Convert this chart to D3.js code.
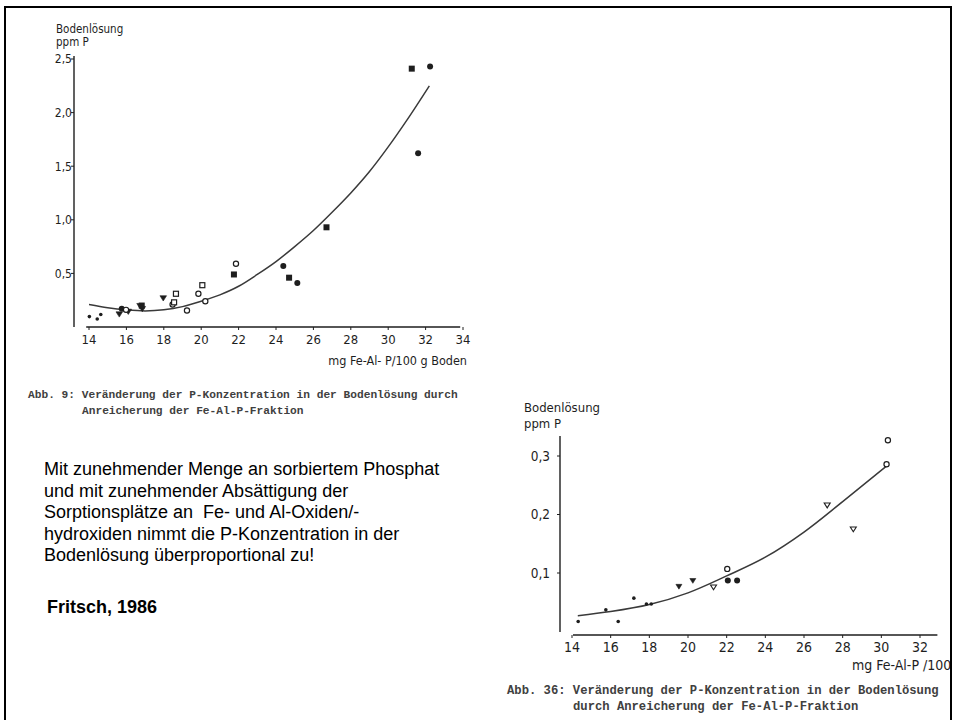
<!DOCTYPE html>
<html><head><meta charset="utf-8">
<script src="https://cdn.jsdelivr.net/npm/d3@7"></script>
<style>
html,body{margin:0;padding:0;background:#fff;}
svg{display:block;}
</style></head>
<body>
<script>
// ---------- DATA: top chart (Abb. 9) ----------
const topXTicks = [14,16,18,20,22,24,26,28,30,32,34];
const topYTicks = [0.5,1.0,1.5,2.0,2.5];
const topYTickLabels = ["0,5","1,0","1,5","2,0","2,5"];
const topDotsX = [14.02,14.44,14.63];
const topDotsY = [0.097,0.075,0.116];
const topTriX = [15.62,16.1,16.73,16.85,17.97];
const topTriY = [0.12,0.145,0.198,0.17,0.27];
const topCircX = [15.75,24.39,25.14,31.6,32.24];
const topCircY = [0.17,0.57,0.41,1.62,2.43];
const topSqX = [16.82,21.75,24.7,26.7,31.26];
const topSqY = [0.2,0.49,0.46,0.93,2.41];
const topOpenCircX = [15.98,18.47,19.24,19.85,20.22,21.86];
const topOpenCircY = [0.16,0.21,0.154,0.31,0.24,0.59];
const topOpenSqX = [18.55,18.65,20.06];
const topOpenSqY = [0.23,0.31,0.39];
const topCurveX = [14,15,16,17,18,19,20,21,22,23,24,25,26,27,28,29,30,31,32.2];
const topCurveY = [0.21,0.18,0.16,0.15,0.16,0.19,0.24,0.30,0.38,0.49,0.61,0.75,0.90,1.07,1.25,1.45,1.68,1.93,2.25];

// ---------- DATA: bottom chart (Abb. 36) ----------
const botXTicks = [14,16,18,20,22,24,26,28,30,32];
const botYTicks = [0.1,0.2,0.3];
const botYTickLabels = ["0,1","0,2","0,3"];
const botDotsX = [14.32,15.75,16.39,17.2,17.85,18.1];
const botDotsY = [0.017,0.037,0.017,0.057,0.047,0.047];
const botTriX = [19.53,20.25];
const botTriY = [0.077,0.087];
const botOpenTriX = [21.32,27.2,28.55];
const botOpenTriY = [0.076,0.216,0.175];
const botOpenCircX = [22.03,30.34,30.27];
const botOpenCircY = [0.107,0.327,0.286];
const botCircX = [22.06,22.54];
const botCircY = [0.087,0.087];
const botCurveX = [14.3,16,18,20,22,24,26,28,30.28];
const botCurveY = [0.027,0.034,0.046,0.066,0.095,0.127,0.170,0.222,0.283];

// ---------- TEXT ----------
const topCaption = ["Abb. 9: Veränderung der P-Konzentration in der Bodenlösung durch",
                    "Anreicherung der Fe-Al-P-Fraktion"];
const botCaption = ["Abb. 36: Veränderung der P-Konzentration in der Bodenlösung",
                    "durch Anreicherung der Fe-Al-P-Fraktion"];
const bodyText = ["Mit zunehmender Menge an sorbiertem Phosphat",
                  "und mit zunehmender Absättigung der",
                  "Sorptionsplätze an  Fe- und Al-Oxiden/-",
                  "hydroxiden nimmt die P-Konzentration in der",
                  "Bodenlösung überproportional zu!"];
const citation = "Fritsch, 1986";

// ---------- DRAW ----------
const W = 954, H = 720;
const svg = d3.select("body").append("svg").attr("width", W).attr("height", H);
const chartFont = "'DejaVu Sans Condensed','Liberation Sans Narrow','DejaVu Sans',sans-serif";
const ink = "#1e1e1e";

function zip(xs, ys){ return xs.map((x,i)=>[x, ys[i]]); }

function drawChart(cfg){
  const g = svg.append("g");
  const x = d3.scaleLinear().domain(cfg.xDomain).range(cfg.xRange);
  const y = d3.scaleLinear().domain(cfg.yDomain).range(cfg.yRange);
  // y axis
  g.append("line").attr("x1", cfg.yAxisX).attr("x2", cfg.yAxisX)
    .attr("y1", cfg.yAxisBottom).attr("y2", cfg.yAxisTop)
    .attr("stroke", ink).attr("stroke-width", 1.4);
  cfg.yTicks.forEach((t,i)=>{
    g.append("line").attr("x1", cfg.yAxisX-3).attr("x2", cfg.yAxisX)
      .attr("y1", y(t)).attr("y2", y(t)).attr("stroke", ink).attr("stroke-width", 1);
    g.append("text").attr("x", cfg.yAxisX - cfg.yLabelGap).attr("y", y(t))
      .attr("dy", "0.36em").attr("text-anchor", "end")
      .attr("font-family", chartFont).attr("font-size", cfg.yFont).attr("fill", ink)
      .text(cfg.yTickLabels[i]);
  });
  // x axis
  g.append("line").attr("x1", x(cfg.xLineDomain[0])).attr("x2", x(cfg.xLineDomain[1]))
    .attr("y1", cfg.xAxisY).attr("y2", cfg.xAxisY)
    .attr("stroke", ink).attr("stroke-width", 1.4);
  cfg.xTicks.forEach(t=>{
    g.append("line").attr("x1", x(t)).attr("x2", x(t))
      .attr("y1", cfg.xAxisY).attr("y2", cfg.xAxisY+3).attr("stroke", ink).attr("stroke-width", 1);
    g.append("text").attr("x", x(t)).attr("y", cfg.xLabelY)
      .attr("text-anchor", "middle")
      .attr("font-family", chartFont).attr("font-size", cfg.xFont).attr("fill", ink)
      .text(t);
  });
  // axis titles
  g.append("text").attr("x", cfg.xTitle.x).attr("y", cfg.xTitle.y)
    .attr("text-anchor", cfg.xTitle.anchor)
    .attr("font-family", chartFont).attr("font-size", cfg.xTitle.size).attr("fill", ink)
    .attr("xml:space","preserve").text(cfg.xTitle.text);
  cfg.yTitle.lines.forEach((l,i)=>{
    g.append("text").attr("x", cfg.yTitle.x).attr("y", cfg.yTitle.y + i*cfg.yTitle.lh)
      .attr("font-family", chartFont).attr("font-size", cfg.yTitle.size).attr("fill", ink)
      .text(l);
  });
  // curve
  const line = d3.line().x(d=>x(d[0])).y(d=>y(d[1])).curve(d3.curveMonotoneX);
  g.append("path").datum(zip(cfg.curveX, cfg.curveY)).attr("d", line)
    .attr("fill","none").attr("stroke","#3a3a3a").attr("stroke-width",1.5);
  // markers
  const s = cfg.mk;
  cfg.series.forEach(sr=>{
    const pts = zip(sr.x, sr.y);
    pts.forEach(p=>{
      const cx = x(p[0]), cy = y(p[1]);
      if (sr.type==="dot"){
        g.append("circle").attr("cx",cx).attr("cy",cy).attr("r",s.dot).attr("fill",ink);
      } else if (sr.type==="circ"){
        g.append("circle").attr("cx",cx).attr("cy",cy).attr("r",s.circ).attr("fill",ink);
      } else if (sr.type==="ocirc"){
        g.append("circle").attr("cx",cx).attr("cy",cy).attr("r",s.circ-0.4).attr("fill","#fff")
          .attr("stroke",ink).attr("stroke-width",1.2);
      } else if (sr.type==="sq"){
        g.append("rect").attr("x",cx-s.sq).attr("y",cy-s.sq).attr("width",2*s.sq).attr("height",2*s.sq).attr("fill",ink);
      } else if (sr.type==="osq"){
        g.append("rect").attr("x",cx-s.sq+0.5).attr("y",cy-s.sq+0.5).attr("width",2*s.sq-1).attr("height",2*s.sq-1)
          .attr("fill","#fff").attr("stroke",ink).attr("stroke-width",1.2);
      } else if (sr.type==="tri" || sr.type==="otri"){
        const r = s.tri;
        const d = `M${cx-r},${cy-r*0.7}L${cx+r},${cy-r*0.7}L${cx},${cy+r*0.9}Z`;
        g.append("path").attr("d",d)
          .attr("fill", sr.type==="tri"? ink : "#fff")
          .attr("stroke", ink).attr("stroke-width", sr.type==="tri"?0.6:1.1);
      }
    });
  });
}

// top chart
drawChart({
  xDomain:[14,34], xRange:[89,463],
  yDomain:[0,2.5], yRange:[327,59],
  yAxisX:74, yAxisTop:56, yAxisBottom:327, yLabelGap:2,
  yTicks:topYTicks, yTickLabels:topYTickLabels, yFont:12,
  xLineDomain:[13.85,33.85], xAxisY:327, xTicks:topXTicks, xLabelY:344, xFont:13,
  xTitle:{text:"mg Fe-Al- P/100 g Boden", x:467, y:365, anchor:"end", size:12.5},
  yTitle:{lines:["Bodenlösung","ppm P"], x:56, y:33, lh:12.5, size:11.5},
  curveX:topCurveX, curveY:topCurveY,
  mk:{dot:1.8, circ:3, sq:3, tri:3.3},
  series:[
    {type:"dot", x:topDotsX, y:topDotsY},
    {type:"tri", x:topTriX, y:topTriY},
    {type:"circ", x:topCircX, y:topCircY},
    {type:"sq", x:topSqX, y:topSqY},
    {type:"ocirc", x:topOpenCircX, y:topOpenCircY},
    {type:"osq", x:topOpenSqX, y:topOpenSqY}
  ]
});

// bottom chart
drawChart({
  xDomain:[14,32], xRange:[572,920],
  yDomain:[0,0.3], yRange:[631.5,456],
  yAxisX:560, yAxisTop:436, yAxisBottom:632, yLabelGap:10,
  yTicks:botYTicks, yTickLabels:botYTickLabels, yFont:13.5,
  xLineDomain:[14.05,32.9], xAxisY:635, xTicks:botXTicks, xLabelY:652, xFont:14,
  xTitle:{text:"mg Fe-Al-P /100 g Boden", x:852, y:670, anchor:"start", size:14},
  yTitle:{lines:["Bodenlösung","ppm P"], x:524, y:412, lh:15.5, size:13},
  curveX:botCurveX, curveY:botCurveY,
  mk:{dot:1.8, circ:3, sq:3, tri:3},
  series:[
    {type:"dot", x:botDotsX, y:botDotsY},
    {type:"tri", x:botTriX, y:botTriY},
    {type:"otri", x:botOpenTriX, y:botOpenTriY},
    {type:"ocirc", x:botOpenCircX, y:botOpenCircY},
    {type:"circ", x:botCircX, y:botCircY}
  ]
});

// captions (typewriter)
const mono = "'Liberation Mono','DejaVu Sans Mono',monospace";
svg.append("text").attr("x",28).attr("y",398).attr("font-family",mono).attr("font-size",11.2)
  .attr("fill","#404040").attr("font-weight","bold").text(topCaption[0]);
svg.append("text").attr("x",82).attr("y",414).attr("font-family",mono).attr("font-size",11.2)
  .attr("fill","#404040").attr("font-weight","bold").text(topCaption[1]);
svg.append("text").attr("x",507).attr("y",694).attr("font-family",mono).attr("font-size",12.2)
  .attr("fill","#404040").attr("font-weight","bold").text(botCaption[0]);
svg.append("text").attr("x",573).attr("y",710).attr("font-family",mono).attr("font-size",12.2)
  .attr("fill","#404040").attr("font-weight","bold").text(botCaption[1]);

// body text
const sans = "'Liberation Sans',Arial,sans-serif";
bodyText.forEach((l,i)=>{
  svg.append("text").attr("x",44).attr("y",475 + i*21.6)
    .attr("font-family",sans).attr("font-size",18).attr("fill","#000")
    .attr("xml:space","preserve").style("white-space","pre").text(l);
});
svg.append("text").attr("x",47).attr("y",613).attr("font-family",sans).attr("font-size",18)
  .attr("font-weight","bold").attr("fill","#000").text(citation);

// frame
svg.append("rect").attr("x",5).attr("y",7).attr("width",946).attr("height",720)
  .attr("fill","none").attr("stroke","#000").attr("stroke-width",2);
</script>
</body></html>
